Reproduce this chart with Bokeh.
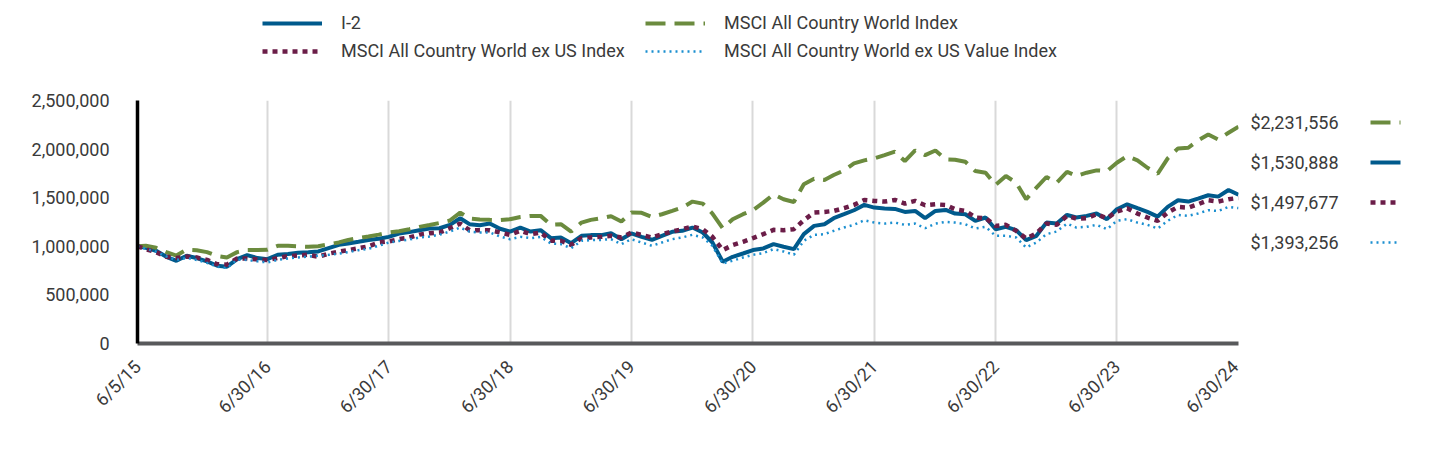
import calendar
import datetime as dt
import math

from bokeh.plotting import figure
from bokeh.layouts import column, row
from bokeh.models import (FixedTicker, NumeralTickFormatter, Legend, LegendItem, Range1d)
from bokeh.core.properties import value
from bokeh.embed import file_html
from bokeh.resources import INLINE

# ---------------- data ----------------
start_label = "6/5/15"
end_label = "6/30/24"
tick_labels = ["6/5/15", "6/30/16", "6/30/17", "6/30/18", "6/30/19",
               "6/30/20", "6/30/21", "6/30/22", "6/30/23", "6/30/24"]

series_names = ["I-2",
                "MSCI All Country World Index",
                "MSCI All Country World ex US Index",
                "MSCI All Country World ex US Value Index"]

i2 = [1000000, 985000, 954000, 892000, 851000, 903000, 879000, 844000, 800000, 790000,
      868000, 910000, 879000, 868000, 913000, 920000, 933000, 940000, 947000, 981000,
      1015000, 1029000, 1046000, 1064000, 1077000, 1097000, 1131000, 1146000, 1166000, 1183000,
      1186000, 1220000, 1289000, 1228000, 1217000, 1234000, 1180000, 1152000, 1193000, 1152000,
      1166000, 1084000, 1091000, 1032000, 1108000, 1115000, 1115000, 1135000, 1073000, 1132000,
      1097000, 1067000, 1108000, 1149000, 1159000, 1193000, 1142000, 1039000, 841000, 892000,
      926000, 961000, 978000, 1022000, 995000, 971000, 1125000, 1210000, 1227000, 1289000,
      1330000, 1371000, 1426000, 1398000, 1390000, 1385000, 1354000, 1364000, 1289000, 1364000,
      1374000, 1337000, 1330000, 1262000, 1296000, 1176000, 1200000, 1166000, 1063000, 1108000,
      1244000, 1234000, 1323000, 1296000, 1313000, 1337000, 1279000, 1381000, 1432000, 1392000,
      1354000, 1306000, 1405000, 1474000, 1460000, 1491000, 1525000, 1511000, 1579000, 1530888]

acwi = [1000000, 1005000, 985000, 940000, 905000, 965000, 960000, 940000, 900000, 885000,
        940000, 962000, 963000, 965000, 1005000, 1005000, 1000000, 995000, 1000000, 1020000,
        1040000, 1065000, 1085000, 1100000, 1120000, 1142000, 1155000, 1175000, 1200000, 1220000,
        1240000, 1265000, 1347000, 1285000, 1275000, 1272000, 1270000, 1279000, 1302000, 1313000,
        1313000, 1221000, 1227000, 1152000, 1244000, 1272000, 1289000, 1310000, 1255000, 1347000,
        1344000, 1302000, 1330000, 1364000, 1398000, 1460000, 1439000, 1337000, 1186000, 1279000,
        1330000, 1371000, 1449000, 1535000, 1484000, 1456000, 1638000, 1695000, 1682000, 1733000,
        1781000, 1853000, 1884000, 1905000, 1938000, 1973000, 1877000, 1986000, 1938000, 1986000,
        1894000, 1890000, 1870000, 1774000, 1757000, 1631000, 1723000, 1654000, 1484000, 1603000,
        1713000, 1654000, 1767000, 1723000, 1757000, 1781000, 1774000, 1860000, 1928000, 1884000,
        1808000, 1747000, 1905000, 2007000, 2014000, 2089000, 2151000, 2099000, 2168000, 2231556]

acwi_xus = [1000000, 970000, 940000, 892000, 880000, 895000, 885000, 860000, 815000, 811000,
            875000, 875000, 865000, 858000, 880000, 899000, 905000, 913000, 892000, 925000,
            945000, 961000, 980000, 1000000, 1040000, 1050000, 1074000, 1090000, 1120000, 1135000,
            1142000, 1186000, 1234000, 1166000, 1166000, 1166000, 1142000, 1118000, 1159000, 1125000,
            1142000, 1056000, 1056000, 1015000, 1084000, 1091000, 1097000, 1108000, 1091000, 1142000,
            1118000, 1091000, 1125000, 1152000, 1176000, 1204000, 1176000, 1097000, 961000, 1012000,
            1046000, 1084000, 1125000, 1169000, 1166000, 1176000, 1268000, 1347000, 1354000, 1364000,
            1392000, 1426000, 1477000, 1467000, 1460000, 1477000, 1439000, 1467000, 1422000, 1432000,
            1425000, 1381000, 1364000, 1296000, 1289000, 1210000, 1221000, 1159000, 1080000, 1132000,
            1234000, 1221000, 1313000, 1285000, 1289000, 1330000, 1289000, 1357000, 1392000, 1337000,
            1296000, 1262000, 1347000, 1405000, 1398000, 1432000, 1474000, 1460000, 1484000, 1497677]

acwi_xus_value = [1000000, 975000, 945000, 895000, 860000, 880000, 860000, 830000, 790000, 776000,
                  862000, 860000, 845000, 834000, 860000, 875000, 885000, 895000, 903000, 912000,
                  925000, 940000, 960000, 975000, 1005000, 1039000, 1055000, 1070000, 1090000, 1101000,
                  1120000, 1152000, 1193000, 1150000, 1142000, 1142000, 1100000, 1073000, 1097000, 1084000,
                  1097000, 1029000, 1022000, 981000, 1056000, 1063000, 1066000, 1073000, 1022000, 1073000,
                  1039000, 1005000, 1039000, 1073000, 1091000, 1118000, 1091000, 1005000, 824000, 851000,
                  885000, 913000, 930000, 971000, 947000, 913000, 1056000, 1118000, 1125000, 1159000,
                  1193000, 1221000, 1268000, 1244000, 1234000, 1244000, 1221000, 1234000, 1186000, 1234000,
                  1251000, 1244000, 1227000, 1183000, 1200000, 1108000, 1108000, 1091000, 988000, 1039000,
                  1125000, 1152000, 1234000, 1193000, 1200000, 1221000, 1176000, 1262000, 1279000, 1244000,
                  1221000, 1183000, 1262000, 1323000, 1313000, 1337000, 1371000, 1364000, 1405000, 1393256]

y_ticks = [0, 500000, 1000000, 1500000, 2000000, 2500000]

# ---------------- dates (inception, then month-ends) ----------------
def parse(s):
    return dt.datetime.strptime(s, "%m/%d/%y").date()

start = parse(start_label)
end = parse(end_label)
dates = [start]
yy, mm = start.year, start.month
while (yy, mm) <= (end.year, end.month):
    dates.append(dt.date(yy, mm, calendar.monthrange(yy, mm)[1]))
    mm += 1
    if mm > 12:
        mm, yy = 1, yy + 1
xd = [(d - start).days for d in dates]
tick_pos = [(parse(t) - start).days for t in tick_labels]

# ---------------- styling ----------------
FONT = "Roboto"
TXT = "#3a3a3a"
styles = {
    "I-2": dict(line_color="#005a8c", line_width=4),
    "MSCI All Country World Index": dict(line_color="#6b8b3e", line_width=4, line_dash="20 9"),
    "MSCI All Country World ex US Index": dict(line_color="#6b1d48", line_width=4.5, line_dash="5 5"),
    "MSCI All Country World ex US Value Index": dict(line_color="#1b8fd0", line_width=2.5, line_dash="2 4"),
}
values = dict(zip(series_names, [i2, acwi, acwi_xus, acwi_xus_value]))

TOTAL_W = 1432
TOP_H = 70
MAIN_W = 1242
MAIN_H = 378
SIDE_W = TOTAL_W - MAIN_W
FRAME_H = 243   # height of the plotting frame (shared by the row)


def bare(fig):
    fig.outline_line_color = None
    fig.xaxis.visible = False
    fig.yaxis.visible = False
    fig.xgrid.visible = False
    fig.ygrid.visible = False
    fig.min_border_left = fig.min_border_right = 0
    fig.min_border_top = fig.min_border_bottom = 0


# ---------------- top legend strip ----------------
top = figure(width=TOTAL_W, height=TOP_H, output_backend="svg", toolbar_location=None,
             x_range=Range1d(0, TOTAL_W), y_range=Range1d(0, TOP_H))
bare(top)
# the series are far outside this strip's range: only their legend keys show
top_r = {n: top.line(xd, values[n], **styles[n]) for n in series_names}


def style_legend(lg, size):
    lg.padding = 0
    lg.margin = 0
    lg.border_line_alpha = 0
    lg.background_fill_alpha = 0
    lg.label_text_font = FONT
    lg.label_text_font_size = size
    lg.label_text_color = TXT
    lg.glyph_height = 20
    lg.label_height = 20
    lg.glyph_width = 60
    lg.label_standoff = 19
    lg.spacing = 7


for cols, xpos in (((0, 2), 262), ((1, 3), 645)):
    lg = Legend(items=[LegendItem(label=series_names[c], renderers=[top_r[series_names[c]]])
                       for c in cols],
                location=(xpos, 9), orientation="vertical")
    style_legend(lg, "18px")
    top.add_layout(lg)

# ---------------- main chart ----------------
p = figure(width=MAIN_W, height=MAIN_H, output_backend="svg", toolbar_location=None,
           x_range=Range1d(0, xd[-1]), y_range=Range1d(0, y_ticks[-1]),
           min_border_left=137, min_border_right=4, min_border_top=30,
           min_border_bottom=105)
p.outline_line_color = None

p.ygrid.visible = False
p.xgrid.ticker = FixedTicker(ticks=tick_pos)
p.xgrid.grid_line_color = "#d9d9d9"
p.xgrid.grid_line_width = 2

xa = p.xaxis[0]
xa.ticker = FixedTicker(ticks=tick_pos)
xa.major_label_overrides = {int(t): lbl for t, lbl in zip(tick_pos, tick_labels)}
xa.major_label_orientation = math.pi / 4
xa.axis_line_color = "#58595b"
xa.axis_line_width = 4
xa.major_tick_line_color = None
xa.minor_tick_line_color = None
xa.major_label_text_font = FONT
xa.major_label_text_font_size = "18px"
xa.major_label_text_color = TXT
xa.major_label_standoff = 14

ya = p.yaxis[0]
ya.ticker = FixedTicker(ticks=y_ticks)
ya.formatter = NumeralTickFormatter(format="0,0")
ya.axis_line_color = "black"
ya.axis_line_width = 3.5
ya.major_tick_line_color = None
ya.minor_tick_line_color = None
ya.major_label_text_font = FONT
ya.major_label_text_font_size = "18px"
ya.major_label_text_color = TXT
ya.major_label_standoff = 22

for name in series_names:
    p.line(xd, values[name], **styles[name])

# ---------------- right-hand ending values (frame aligned with main frame) ----------------
side = figure(width=SIDE_W, height=MAIN_H, output_backend="svg", toolbar_location=None,
              x_range=Range1d(0, SIDE_W), y_range=Range1d(0, FRAME_H))
bare(side)
order = sorted(series_names, key=lambda n: values[n][-1], reverse=True)
row_y = [FRAME_H - 22 - 40 * k for k in range(len(order))]
side.text(x=[8] * len(order), y=row_y,
          text=["${:,.0f}".format(values[n][-1]) for n in order],
          text_font=value(FONT), text_font_size="18px", text_color=TXT,
          text_baseline="middle", text_align="left")
for k, n in enumerate(order):
    side.line([128, 158], [row_y[k], row_y[k]], **styles[n])

layout = column(top, row(p, side))
open("out.html", "w").write(file_html(layout, INLINE))
